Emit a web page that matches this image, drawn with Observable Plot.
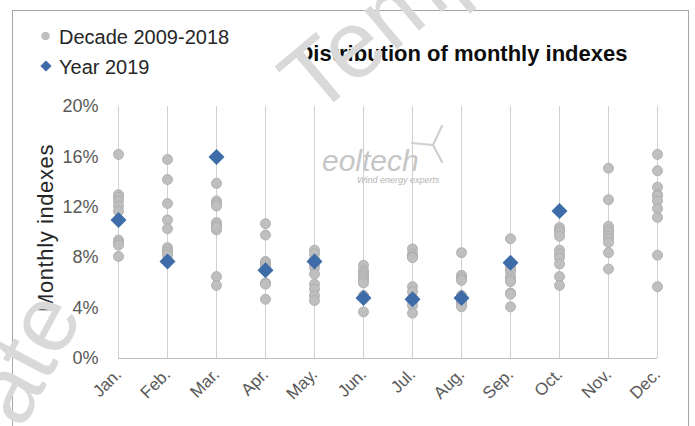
<!DOCTYPE html>
<html>
<head>
<meta charset="utf-8">
<script src="https://cdn.jsdelivr.net/npm/d3@7"></script>
<script src="https://cdn.jsdelivr.net/npm/@observablehq/plot@0.6"></script>
<style>
  html, body { margin: 0; padding: 0; background: #fff; }
  #wrap { position: relative; width: 695px; height: 426px; overflow: hidden; background: #fff;
          font-family: "Liberation Sans", Arial, sans-serif; }
  #frame { position: absolute; left: 12px; top: 10px; width: 677px; height: 520px;
           border: 1px solid #a6a6a6; box-sizing: border-box; }
  .layer { position: absolute; left: 0; top: 0; }
  #chart { position: absolute; left: 0; top: 90px; }
</style>
</head>
<body>
<div id="wrap">
  <div id="frame"></div>
  <svg class="layer" width="695" height="426" id="back">
    <g fill="#c6c6c6" font-family="Liberation Sans, Arial, sans-serif" font-style="italic">
      <text x="322" y="171" font-size="30">eoltech</text>
      <text x="357" y="183" font-size="9" fill="#b4b4b4">Wind energy experts</text>
    </g>
    <g stroke="#cfcfcf" stroke-width="2.2" stroke-linecap="round" fill="none">
      <path d="M433,145 L442,126"></path>
      <path d="M433,145 L412,143"></path>
      <path d="M433,145 L442,162"></path>
    </g>
  </svg>
  <div id="chart"></div>
  <svg class="layer" width="695" height="426" id="front"></svg>
</div>
<script>
// ---- data (values in %) ----
const months = ["Jan.", "Feb.", "Mar.", "Apr.", "May.", "Jun.", "Jul.", "Aug.", "Sep.", "Oct.", "Nov.", "Dec."];
const decadeJan = [16.2, 13.0, 12.8, 12.5, 12.1, 11.7, 9.4, 9.2, 9.0, 8.1];
const decadeFeb = [15.8, 14.2, 12.3, 11.0, 10.3, 8.8, 8.6, 8.4, 8.2, 7.8];
const decadeMar = [13.9, 12.5, 12.3, 12.1, 10.8, 10.6, 10.2, 10.4, 6.5, 5.8];
const decadeApr = [10.7, 9.8, 7.7, 7.6, 7.4, 7.0, 6.0, 5.9, 4.7, 7.2];
const decadeMay = [8.6, 8.3, 7.9, 7.5, 7.2, 6.7, 5.9, 5.5, 5.0, 4.6];
const decadeJun = [7.4, 7.0, 6.8, 6.6, 6.4, 6.2, 6.0, 5.0, 4.9, 3.7];
const decadeJul = [8.7, 8.3, 8.1, 8.0, 5.7, 5.3, 4.8, 4.5, 4.2, 3.6];
const decadeAug = [8.4, 6.6, 6.4, 6.2, 5.0, 4.9, 4.6, 4.5, 4.3, 4.1];
const decadeSep = [9.5, 7.3, 7.0, 6.9, 6.5, 6.3, 6.1, 5.2, 5.1, 4.1];
const decadeOct = [10.4, 10.2, 10.0, 9.7, 8.6, 8.3, 8.0, 7.5, 6.5, 5.8];
const decadeNov = [15.1, 12.6, 10.5, 10.2, 10.0, 9.7, 9.5, 9.2, 8.4, 7.1];
const decadeDec = [16.2, 14.9, 13.6, 13.0, 12.9, 12.5, 11.9, 11.2, 8.2, 5.7];
const year2019 = [11.0, 7.7, 16.0, 7.0, 7.7, 4.8, 4.7, 4.8, 7.6, 11.7];
const yTicks = [0, 4, 8, 12, 16, 20];
const legendLabels = ["Decade 2009-2018", "Year 2019"];
const titleText = "Distribution of monthly indexes";
const yTitle = "Monthly indexes";

const decade = [decadeJan, decadeFeb, decadeMar, decadeApr, decadeMay, decadeJun,
                decadeJul, decadeAug, decadeSep, decadeOct, decadeNov, decadeDec];
const decadeRows = months.flatMap((m, i) => decade[i].map(v => ({month: m, value: v})));
const yearRows = year2019.map((v, i) => ({month: months[i], value: v}));

const FONT = "Liberation Sans, Arial, sans-serif";

const chart = Plot.plot({
  width: 695,
  height: 336,
  marginLeft: 118,
  marginRight: 38,
  marginTop: 16,
  marginBottom: 68,
  style: {background: "transparent", fontFamily: FONT, fontSize: "17px", color: "#595959", overflow: "visible"},
  x: {type: "point", domain: months, padding: 0, label: null, tickSize: 0, tickRotate: -45, tickPadding: 13},
  y: {domain: [0, 20], ticks: yTicks, tickFormat: d => d + "%", label: null, tickSize: 0, tickPadding: 20},
  marks: [
    Plot.ruleX(months, {y1: 0, y2: 20, stroke: "#d0d0d0", strokeWidth: 1}),
    Plot.ruleY([0], {stroke: "#bcbcbc", strokeWidth: 1}),
    Plot.dot(decadeRows, {x: "month", y: "value", r: 5, fill: "#bfbfbf", stroke: "#a8a8a8", strokeWidth: 0.8}),
    Plot.dot(yearRows, {x: "month", y: "value", symbol: "diamond2", r: 7.2, fill: "#3e6ca8"})
  ]
});
document.getElementById("chart").appendChild(chart);
chart.querySelectorAll("g[aria-label='y-axis tick label'] text, g[aria-label='y-axis'] text").forEach(t => t.style.fontSize = "18px");

// ---- front layer: legend, title, axis title, watermark ----
const front = d3.select("#front");
const lg = front.append("g").attr("font-family", FONT).attr("font-size", 20).attr("fill", "#262626");
lg.append("circle").attr("cx", 45.5).attr("cy", 36).attr("r", 4.3).attr("fill", "#bfbfbf");
lg.append("path").attr("d", d3.symbol(d3.symbolDiamond2, 80)()).attr("transform", "translate(46,66)").attr("fill", "#3e6ca8");
lg.append("text").attr("x", 59).attr("y", 43.5).text(legendLabels[0]);
lg.append("text").attr("x", 59).attr("y", 73.5).text(legendLabels[1]);

front.append("text").attr("x", 462.5).attr("y", 61).attr("text-anchor", "middle")
  .attr("font-family", FONT).attr("font-size", 22).attr("font-weight", "bold").attr("fill", "#0d0d0d")
  .text(titleText);

front.append("text").attr("transform", "translate(53,228) rotate(-90)").attr("text-anchor", "middle")
  .attr("font-family", FONT).attr("font-size", 22).attr("letter-spacing", "0.6px").attr("fill", "#262626")
  .text(yTitle);

const wm = front.append("g").attr("font-family", FONT).attr("font-size", 95).attr("fill", "#d9d9d9");
wm.append("text").attr("transform", "translate(315,118) rotate(-40)").text("Template");
wm.append("text").attr("transform", "translate(84,314) rotate(-62)").attr("text-anchor", "end").text("Template");
</script>
</body>
</html>
